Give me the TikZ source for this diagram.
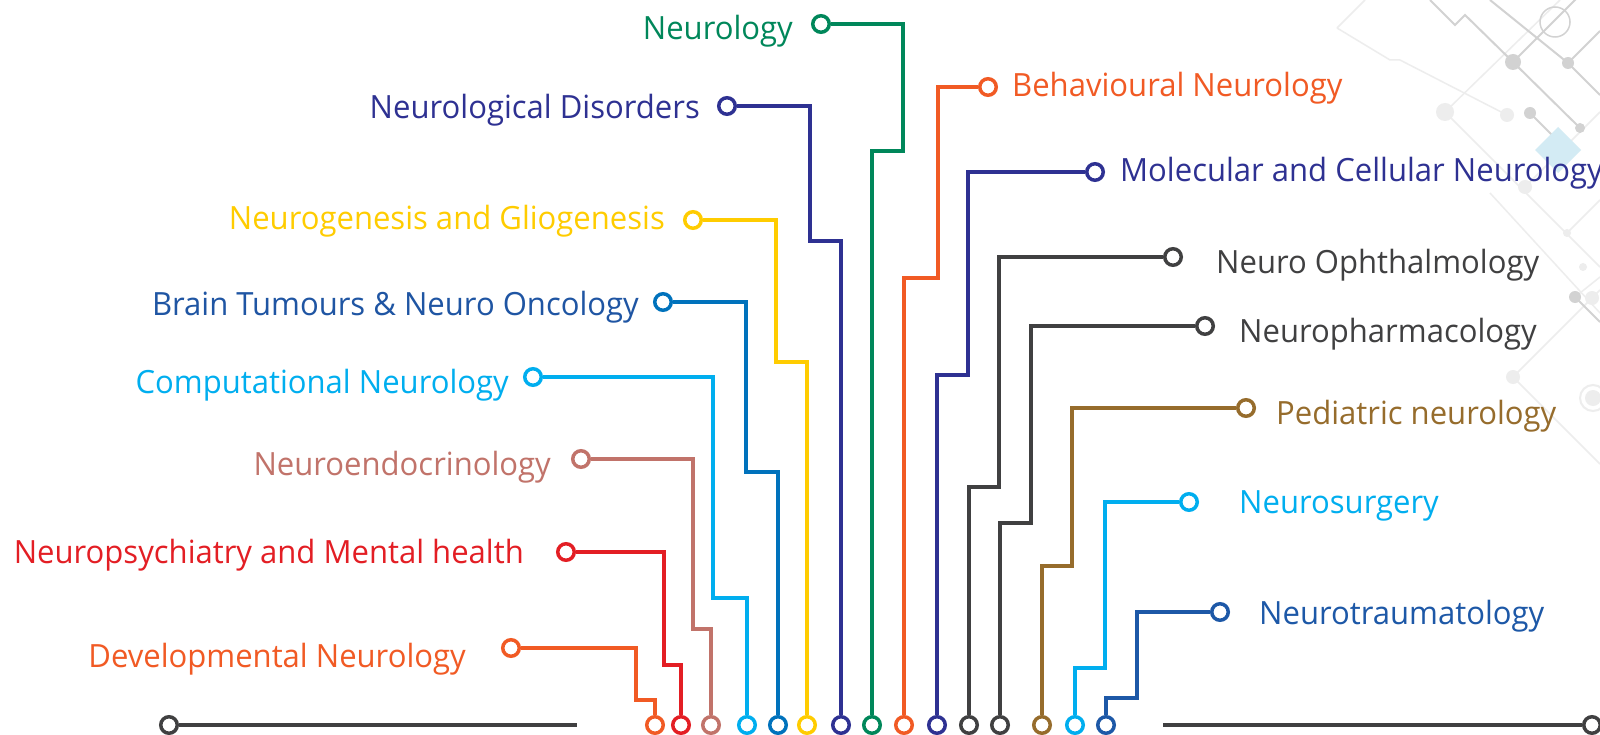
\documentclass[tikz,border=0pt]{standalone}
\usepackage{fontspec}
\setmainfont{Open Sans}[FakeStretch=0.97]
\definecolor{nrgreen}{HTML}{00875A}
\definecolor{nrnavy}{HTML}{2E3192}
\definecolor{nryellow}{HTML}{FFCC00}
\definecolor{nrsteel}{HTML}{0072BC}
\definecolor{nrsteeltext}{HTML}{1F55A3}
\definecolor{nrcyan}{HTML}{00AEEF}
\definecolor{nrrose}{HTML}{C1736A}
\definecolor{nrred}{HTML}{E31E24}
\definecolor{nrorange}{HTML}{F15A24}
\definecolor{nrgray}{HTML}{404041}
\definecolor{nrbrown}{HTML}{966C2C}
\definecolor{nrblue}{HTML}{1D58A7}
\definecolor{bgline}{HTML}{D2D2D2}
\definecolor{bglight}{HTML}{EDEDED}
\definecolor{bgdiamond}{HTML}{D3EBF4}

\begin{document}
\begin{tikzpicture}[x=1pt, y=-1pt,
    ring/.style={circle, draw, line width=3.5pt, fill=white, minimum size=16.5pt, inner sep=0pt},
    wire/.style={line width=3.5pt},
    lbl/.style={inner sep=0pt, font=\fontsize{32}{38}\selectfont}]
        \clip (0,0) rectangle (1600,735);
        \fill[white] (0,0) rectangle (1600,735);
        % circuit pattern, top right corner
        \draw[bglight, line width=1.5pt] (1337,28) -- (1365,0);
        \draw[bglight, line width=1.5pt] (1337,28) -- (1390,60) -- (1400,60) -- (1507,115);
        \draw[bglight, line width=1.5pt] (1445,112) -- (1560,0);
        \draw[bglight, line width=1.5pt] (1445,112) -- (1600,267);
        \draw[bglight, line width=1.5pt] (1525,187) -- (1600,112);
        \draw[bglight, line width=1.5pt] (1490,193) -- (1600,313);
        \draw[bglight, line width=1.5pt] (1567,233) -- (1600,200);
        \draw[bglight, line width=1.5pt] (1575,297) -- (1600,277);
        \draw[bglight, line width=1.5pt] (1513,377) -- (1600,290);
        \draw[bglight, line width=1.5pt] (1513,377) -- (1600,464);
        \draw[bgline, line width=2pt] (1430,0) -- (1455,25) -- (1465,15) -- (1513,62) -- (1580,128);
        \draw[bgline, line width=2pt] (1513,62) -- (1590,-15);
        \draw[bgline, line width=2pt] (1490,0) -- (1568,63) -- (1600,95);
        \draw[bgline, line width=2pt] (1568,63) -- (1600,31);
        \draw[bgline, line width=2pt] (1530,113) -- (1560,143);
        \draw[bgline, line width=2pt] (1575,297) -- (1600,322);
        \draw[bgline, line width=1.5pt] (1555,22) circle (15);
        \fill[bgline] (1513,62) circle (8) (1568,63) circle (6) (1530,113) circle (6)
            (1580,128) circle (5) (1575,297) circle (6);
        \fill[bglight] (1445,112) circle (9) (1507,115) circle (7) (1525,187) circle (7)
            (1567,233) circle (4) (1583,267) circle (4) (1592,298) circle (7) (1513,377) circle (7);
        \fill[bgdiamond] (1558,127) -- (1581,150) -- (1558,173) -- (1535,150) -- cycle;
        \draw[bglight, line width=2pt] (1593,398) circle (13);
        \fill[bglight] (1593,398) circle (8);

        % base line
        \node[ring, draw=nrgray] (gl) at (169,725) {};
        \node[ring, draw=nrgray] (gr) at (1592,725) {};
        \coordinate (glend) at (577,725);
        \coordinate (grend) at (1163,725);
        \draw[nrgray, line width=4pt] (gl.east) -- (glend);
        \draw[nrgray, line width=4pt] (grend) -- (gr.west);

        % bottom row of pins
        \foreach \n/\x/\c in {bdev/655/nrorange, bpsy/681/nrred, bendo/711/nrrose,
                bcomp/747/nrcyan, btum/778/nrsteel, bgen/807/nryellow, bdis/841/nrnavy,
                bneu/872/nrgreen, bbeh/904/nrorange, bmol/937/nrnavy, boph/969/nrgray,
                bpha/1000/nrgray, bped/1042/nrbrown, bsur/1075/nrcyan, btra/1106/nrblue}
            \node[ring, draw=\c] (\n) at (\x,725) {};

        % left branches
        \node[ring, draw=nrgreen] (cneu) at (821,24) {};
        \node[ring, draw=nrnavy] (cdis) at (727,106) {};
        \node[ring, draw=nryellow] (cgen) at (693,220) {};
        \node[ring, draw=nrsteel] (ctum) at (663,302) {};
        \node[ring, draw=nrcyan] (ccomp) at (533,377) {};
        \node[ring, draw=nrrose] (cendo) at (581,459) {};
        \node[ring, draw=nrred] (cpsy) at (566,552) {};
        \node[ring, draw=nrorange] (cdev) at (511,648) {};
        \node[lbl, text=nrgreen, anchor=base east] (neu) at (793,40) {Neurology};
        \node[lbl, text=nrnavy, anchor=base east] (dis) at (700,119) {Neurological Disorders};
        \node[lbl, text=nryellow, anchor=base east] (gen) at (665,230) {Neurogenesis and Gliogenesis};
        \node[lbl, text=nrsteeltext, anchor=base east] (tum) at (639,315) {Brain Tumours \& Neuro Oncology};
        \node[lbl, text=nrcyan, anchor=base east] (comp) at (509,393) {Computational Neurology};
        \node[lbl, text=nrrose, anchor=base east] (endo) at (551,475) {Neuroendocrinology};
        \node[lbl, text=nrred, anchor=base east] (psy) at (524,563) {Neuropsychiatry and Mental health};
        \node[lbl, text=nrorange, anchor=base east] (dev) at (466,667) {Developmental Neurology};
        \draw[wire, nrgreen] (cneu.east) -| (903,151) -| (bneu.north);
        \draw[wire, nrnavy] (cdis.east) -| (810,241) -| (bdis.north);
        \draw[wire, nryellow] (cgen.east) -| (776,362) -| (bgen.north);
        \draw[wire, nrsteel] (ctum.east) -| (746,472) -| (btum.north);
        \draw[wire, nrcyan] (ccomp.east) -| (713,598) -| (bcomp.north);
        \draw[wire, nrrose] (cendo.east) -| (693,629) -| (bendo.north);
        \draw[wire, nrred] (cpsy.east) -| (664,665) -| (bpsy.north);
        \draw[wire, nrorange] (cdev.east) -| (636,700) -| (bdev.north);

        % right branches
        \node[ring, draw=nrorange] (cbeh) at (988,87) {};
        \node[ring, draw=nrnavy] (cmol) at (1095,172) {};
        \node[ring, draw=nrgray] (coph) at (1173,257) {};
        \node[ring, draw=nrgray] (cpha) at (1205,326) {};
        \node[ring, draw=nrbrown] (cped) at (1246,408) {};
        \node[ring, draw=nrcyan] (csur) at (1189,502) {};
        \node[ring, draw=nrblue] (ctra) at (1220,612) {};
        \node[lbl, text=nrorange, anchor=base west] (beh) at (1012,97) {Behavioural Neurology};
        \node[lbl, text=nrnavy, anchor=base west] (mol) at (1120,182) {Molecular and Cellular Neurology};
        \node[lbl, text=nrgray, anchor=base west] (oph) at (1216,273) {Neuro Ophthalmology};
        \node[lbl, text=nrgray, anchor=base west] (pha) at (1239,342) {Neuropharmacology};
        \node[lbl, text=nrbrown, anchor=base west] (ped) at (1276,424) {Pediatric neurology};
        \node[lbl, text=nrcyan, anchor=base west] (sur) at (1239,513) {Neurosurgery};
        \node[lbl, text=nrblue, anchor=base west] (tra) at (1259,624) {Neurotraumatology};
        \draw[wire, nrorange] (cbeh.west) -| (938,278) -| (bbeh.north);
        \draw[wire, nrnavy] (cmol.west) -| (968,375) -| (bmol.north);
        \draw[wire, nrgray] (coph.west) -| (999,487) -| (boph.north);
        \draw[wire, nrgray] (cpha.west) -| (1031,523) -| (bpha.north);
        \draw[wire, nrbrown] (cped.west) -| (1072,566) -| (bped.north);
        \draw[wire, nrcyan] (csur.west) -| (1105,668) -| (bsur.north);
        \draw[wire, nrblue] (ctra.west) -| (1137,698) -| (btra.north);
      \end{tikzpicture}
\end{document}
